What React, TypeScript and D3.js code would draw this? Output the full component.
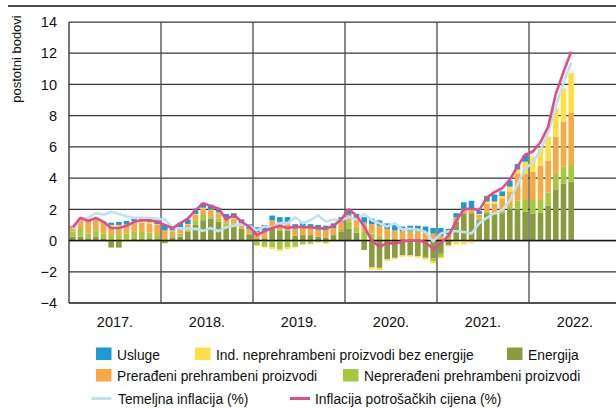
import React from "react";
import * as d3 from "d3";

// ---- DATA (Jan 2017 – Jun 2022, monthly, contributions in percentage points) ----
const startYear = 2017;
const yearLabels = ["2017.", "2018.", "2019.", "2020.", "2021.", "2022."];
const yTicks = [-4, -2, 0, 2, 4, 6, 8, 10, 12, 14];

// Energija
const energija = [
  0.25, 0.25, 0.15, 0.25, 0.15, -0.45, -0.45, 0.05, 0.1, 0.1, 0.15, 0.1,
  -0.15, 0.2, 0.25, 0.55, 1.0, 1.3, 1.4, 1.2, 0.9, 1.0, 0.75, 0.4,
  0.1, 0.15, 0.75, 0.65, 0.65, 0.3, 0.35, 0.35, 0.25, 0.2, 0.35, 0.55,
  0.75, 0.5, -0.6, -1.7, -1.75, -1.2, -1.1, -0.95, -0.95, -1.0, -1.1, -1.15,
  -0.85, -0.3, 1.2, 1.75, 1.75, 1.3, 1.75, 1.65, 1.75, 2.05, 2.05, 1.85,
  1.74, 1.78, 2.23, 3.28, 3.66, 3.77,
];
// Neprerađeni prehrambeni proizvodi
const nepreradjeni = [
  0.32, 0.55, 0.3, 0.4, 0.3, 0.35, 0.35, 0.4, 0.45, 0.45, 0.35, 0.25,
  0.1, 0.1, 0.2, 0.1, 0.3, 0.4, 0.15, 0.2, 0.2, 0.1, 0.05, 0.05,
  -0.3, -0.4, -0.45, -0.55, -0.45, -0.4, -0.25, -0.2, -0.1, -0.15, -0.05, 0.2,
  0.45, 0.4, 0.55, 0.45, 0.3, 0.15, 0.1, 0.1, 0.05, 0.05, 0.0, -0.2,
  -0.2, 0.1, 0.05, 0.0, 0.0, 0.1, 0.1, 0.1, 0.2, 0.15, 0.5, 0.75,
  0.86, 0.82, 0.84, 0.98, 1.07, 1.07,
];
// Prerađeni prehrambeni proizvodi
const preradjeni = [
  0.32, 0.6, 0.85, 0.7, 0.75, 0.55, 0.55, 0.6, 0.6, 0.6, 0.6, 0.65,
  0.55, 0.3, 0.35, 0.35, 0.35, 0.35, 0.4, 0.35, 0.3, 0.3, 0.3, 0.3,
  0.45, 0.5, 0.55, 0.55, 0.55, 0.45, 0.55, 0.45, 0.45, 0.5, 0.45, 0.45,
  0.45, 0.5, 0.6, 0.6, 0.65, 0.6, 0.55, 0.5, 0.55, 0.55, 0.55, 0.45,
  0.3, 0.3, 0.25, 0.25, 0.25, 0.25, 0.5, 0.6, 0.75, 0.95, 1.75, 1.7,
  1.8, 2.2, 2.03, 2.4, 2.89, 3.36,
];
// Ind. neprehrambeni proizvodi bez energije
const industrijski = [
  0.0, 0.05, 0.0, 0.05, 0.05, 0.1, 0.1, -0.1, 0.1, 0.1, 0.1, 0.05,
  -0.05, 0.05, 0.05, 0.05, 0.05, 0.05, 0.05, 0.05, 0.05, 0.05, 0.0, 0.0,
  -0.05, -0.05, -0.1, -0.12, -0.1, -0.05, 0.0, -0.05, -0.05, -0.05, -0.05, 0.0,
  0.0, 0.0, 0.0, -0.15, -0.15, -0.1, -0.1, -0.08, -0.08, -0.1, -0.12, -0.12,
  -0.1, -0.1, -0.25, -0.25, -0.15, 0.05, 0.15, 0.15, 0.15, 0.3, 0.25, 0.75,
  0.97, 1.1, 1.56, 1.81, 2.13, 2.52,
];
// Usluge
const usluge = [
  0.05, 0.0, 0.0, 0.0, 0.0, 0.15, 0.2, 0.2, 0.15, 0.15, 0.15, 0.25,
  0.35, 0.2, 0.3, 0.3, 0.35, 0.3, 0.3, 0.3, 0.25, 0.3, 0.25, 0.3,
  0.3, 0.35, 0.3, 0.3, 0.3, 0.3, 0.3, 0.25, 0.3, 0.25, 0.3, 0.3,
  0.35, 0.3, 0.35, 0.35, 0.35, 0.35, 0.35, 0.3, 0.35, 0.35, 0.35, 0.35,
  0.5, 0.35, 0.25, 0.45, 0.55, 0.2, 0.35, 0.45, 0.3, 0.4, 0.35, 0.43,
  0, 0, 0, 0, 0, 0,
];
// Temeljna inflacija (%)
const temeljna = [
  0.75, 1.4, 1.45, 1.75, 1.65, 1.85, 1.7, 1.55, 1.45, 1.45, 1.45, 1.4,
  1.35, 0.8, 0.78, 0.78, 0.75, 0.62, 0.8, 0.6, 0.85, 0.95, 1.05, 0.95,
  0.65, 0.9, 0.85, 1.1, 1.1, 1.5, 1.1, 1.3, 1.62, 1.2, 1.35, 1.3,
  1.5, 1.35, 1.7, 1.3, 1.1, 0.9, 1.1, 0.7, 0.75, 0.7, 0.55, -0.05,
  0.45, 0.6, 0.6, 0.55, 0.45, 1.1, 1.45, 1.75, 1.95, 2.55, 3.6, 4.6,
  5.0, 5.8, 6.9, 8.6, 10.1, 11.4,
];
// Inflacija potrošačkih cijena (%)
const inflacija = [
  0.85, 1.45, 1.25, 1.45, 1.2, 0.8, 0.8, 0.95, 1.2, 1.3, 1.3, 1.2,
  1.0, 0.8, 1.1, 1.4, 1.95, 2.4, 2.2, 2.05, 1.35, 1.65, 1.2, 0.9,
  0.35, 0.6, 0.8, 0.95, 0.8, 0.9, 0.85, 0.85, 0.8, 0.75, 0.95, 1.35,
  2.0, 1.6, 0.9, 0.0, -0.4, -0.15, -0.2, -0.05, 0.0, 0.0, -0.1, -0.55,
  -0.15, 0.3, 1.25, 2.0, 2.05, 1.95, 2.75, 3.1, 3.35, 3.9, 4.75, 5.5,
  5.7, 6.3, 7.3, 9.4, 10.8, 12.1,
];

const seriesKeys = ["energija", "nepreradjeni", "preradjeni", "industrijski", "usluge"];
const seriesColors: Record<string, string> = {
  usluge: "#1b9ad6",
  industrijski: "#fedf45",
  energija: "#8a9c3e",
  preradjeni: "#f7a944",
  nepreradjeni: "#a7c83c",
};
const legendRows = [
  [
    { key: "usluge", label: "Usluge", x: 96 },
    { key: "industrijski", label: "Ind. neprehrambeni proizvodi bez energije", x: 195 },
    { key: "energija", label: "Energija", x: 507 },
  ],
  [
    { key: "preradjeni", label: "Prerađeni prehrambeni proizvodi", x: 96 },
    { key: "nepreradjeni", label: "Neprerađeni prehrambeni proizvodi", x: 343 },
  ],
];
const CORE_COLOR = "#bfe2ee";
const CPI_COLOR = "#df4d8d";

const FONT = "'Liberation Sans', Arial, Helvetica, sans-serif";

export default function App() {
  const W = 616;
  const H = 408;
  const left = 69;
  const right = 621;
  const top = 22;
  const bottom = 303;

  const n = inflacija.length;
  const rows = d3.range(n).map((i) => ({
    i,
    energija: energija[i],
    nepreradjeni: nepreradjeni[i],
    preradjeni: preradjeni[i],
    industrijski: industrijski[i],
    usluge: usluge[i],
  }));

  const totalMonths = yearLabels.length * 12;
  const x = d3
    .scaleBand<number>()
    .domain(d3.range(totalMonths))
    .range([left, right])
    .paddingInner(0.27)
    .paddingOuter(0.135);
  const xc = (i: number) => (x(i) as number) + x.bandwidth() / 2;

  const xYear = d3
    .scaleLinear()
    .domain([startYear, startYear + yearLabels.length])
    .range([left, right]);

  const y = d3.scaleLinear().domain([-4, 14]).range([bottom, top]);

  const stack = d3
    .stack<any>()
    .keys(seriesKeys)
    .offset(d3.stackOffsetDiverging);
  const stacked = stack(rows);

  const line = d3
    .line<number>()
    .x((_, i) => xc(i))
    .y((d) => y(d))
    .curve(d3.curveLinear);

  const yearBoundaries = d3.range(startYear, startYear + yearLabels.length + 1);

  return (
    <svg
      width={W}
      height={H}
      viewBox={`0 0 ${W} ${H}`}
      style={{ position: "absolute", left: 0, top: 0, background: "#fff" }}
      fontFamily={FONT}
    >
      <rect x={0} y={0} width={W} height={H} fill="#fff" />
      {/* top rule */}
      <line x1={8} x2={W} y1={6} y2={6} stroke="#111" strokeWidth={1.4} />

      {/* horizontal grid */}
      {yTicks.map((t) => (
        <line
          key={"h" + t}
          x1={left}
          x2={right}
          y1={y(t)}
          y2={y(t)}
          stroke={t === -4 ? "#1a1a1a" : "#383838"}
          strokeWidth={t === -4 ? 1.5 : 1.25}
        />
      ))}
      {/* vertical year grid */}
      {yearBoundaries.map((yr) => (
        <line
          key={"v" + yr}
          x1={xYear(yr)}
          x2={xYear(yr)}
          y1={top}
          y2={bottom}
          stroke={yr === startYear ? "#2a2a2a" : "#4a4a4a"}
          strokeWidth={1.3}
        />
      ))}

      {/* stacked bars */}
      {stacked.map((layer) => (
        <g key={layer.key} fill={seriesColors[layer.key]}>
          {layer.map((d, i) => {
            const y0 = y(d[0]);
            const y1 = y(d[1]);
            const h = Math.abs(y0 - y1);
            if (h < 0.01) return null;
            return (
              <rect
                key={i}
                x={x(i) as number}
                width={x.bandwidth()}
                y={Math.min(y0, y1)}
                height={h}
              />
            );
          })}
        </g>
      ))}

      {/* zero line */}
      <line x1={left} x2={right} y1={y(0)} y2={y(0)} stroke="#1a1a1a" strokeWidth={1.5} />

      {/* lines */}
      <path d={line(temeljna) || ""} fill="none" stroke={CORE_COLOR} strokeWidth={2.6} strokeLinejoin="round" />
      <path d={line(inflacija) || ""} fill="none" stroke={CPI_COLOR} strokeWidth={2.6} strokeLinejoin="round" />

      {/* y tick labels */}
      {yTicks.map((t) => (
        <text
          key={"yt" + t}
          x={57}
          y={y(t)}
          dy="0.36em"
          textAnchor="end"
          fontSize={14.5}
          fill="#111"
        >
          {t < 0 ? "\u2212" + Math.abs(t) : String(t)}
        </text>
      ))}
      {/* y title */}
      <text
        transform="translate(20.5,59) rotate(-90)"
        textAnchor="middle"
        fontSize={13}
        fill="#111"
      >
        postotni bodovi
      </text>

      {/* year labels */}
      {yearLabels.map((lab, k) => (
        <text
          key={lab}
          x={(xYear(startYear + k) + xYear(startYear + k + 1)) / 2}
          y={326.5}
          textAnchor="middle"
          fontSize={14.5}
          fill="#111"
        >
          {lab}
        </text>
      ))}

      {/* legend */}
      {legendRows.map((row, r) =>
        row.map((item) => (
          <g key={item.key}>
            <rect
              x={item.x}
              y={347.5 + r * 21.5}
              width={15.5}
              height={12.5}
              fill={seriesColors[item.key]}
            />
            <text x={item.x + 21} y={359.5 + r * 21.5} fontSize={13.8} fill="#111">
              {item.label}
            </text>
          </g>
        ))
      )}
      <line x1={91.5} x2={111.5} y1={398.5} y2={398.5} stroke={CORE_COLOR} strokeWidth={3} />
      <text x={118} y={404} fontSize={13.8} fill="#111">
        Temeljna inflacija (%)
      </text>
      <line x1={290} x2={310} y1={398.5} y2={398.5} stroke={CPI_COLOR} strokeWidth={3} />
      <text x={315} y={404} fontSize={13.8} fill="#111">
        Inflacija potrošačkih cijena (%)
      </text>
    </svg>
  );
}
